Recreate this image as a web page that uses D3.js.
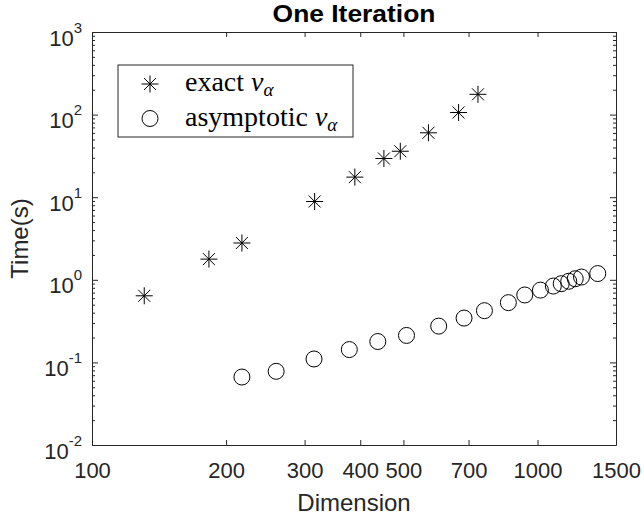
<!DOCTYPE html>
<html>
<head>
<meta charset="utf-8">
<script src="https://cdn.jsdelivr.net/npm/d3@7"></script>
<style>
  body { margin: 0; background: #fff; }
  svg { display: block; }
</style>
</head>
<body>
<div id="chart"></div>
<script>
// values
const exactDim = [131, 183, 217, 316, 389, 452, 492, 569, 665, 735];
const exactTime = [0.64, 1.78, 2.79, 8.87, 17.5, 29.4, 36.0, 60.2, 106, 176];

const asymDim = [217, 259, 315, 378, 438, 508, 600, 684, 760, 860, 936, 1015, 1085, 1130, 1175, 1215, 1255, 1365];
const asymTime = [0.0665, 0.078, 0.110, 0.143, 0.179, 0.212, 0.275, 0.344, 0.423, 0.529, 0.655, 0.75, 0.84, 0.897, 0.96, 1.03, 1.08, 1.19];

const xTicks = [100, 200, 300, 400, 500, 700, 1000, 1500];
const yExponents = [-2, -1, 0, 1, 2, 3];

const legendLabels = ['exact', 'asymptotic'];

const W = 644, H = 522;
const margin = { left: 92, right: 28, top: 32, bottom: 77 };
const axisColor = '#262626';
const sans = 'Liberation Sans, Arial, sans-serif';

const svg = d3.select('#chart').append('svg')
  .attr('width', W)
  .attr('height', H);

const x = d3.scaleLog().domain([100, 1500]).range([margin.left, W - margin.right]);
const y = d3.scaleLog().domain([1e-2, 1e3]).range([H - margin.bottom, margin.top]);

const yMajor = yExponents.map(e => Math.pow(10, e));
const yMinor = [];
yExponents.slice(0, -1).forEach(e => {
  for (let k = 2; k <= 9; k++) yMinor.push(k * Math.pow(10, e));
});

// axes (box + inward ticks)
function styleAxis(g) {
  g.selectAll('path.domain').attr('stroke', axisColor).attr('stroke-width', 1);
  g.selectAll('.tick line').attr('stroke', axisColor);
  g.selectAll('.tick text').attr('fill', axisColor);
}

const gx = svg.append('g')
  .attr('transform', `translate(0,${y.range()[0]})`)
  .call(d3.axisBottom(x).tickValues(xTicks).tickSize(-5).tickSizeOuter(0).tickPadding(17)
    .tickFormat(d3.format('d')))
  .call(styleAxis);
gx.selectAll('.tick text')
  .attr('font-family', sans)
  .attr('font-size', 22);

svg.append('g')
  .attr('transform', `translate(0,${y.range()[1]})`)
  .call(d3.axisTop(x).tickValues(xTicks).tickSize(-5).tickSizeOuter(0).tickFormat(''))
  .call(styleAxis);

const gy = svg.append('g')
  .attr('transform', `translate(${x.range()[0]},0)`)
  .call(d3.axisLeft(y).tickValues(yMajor).tickSize(-6).tickSizeOuter(0).tickFormat(''))
  .call(styleAxis);

svg.append('g')
  .attr('transform', `translate(${x.range()[0]},0)`)
  .call(d3.axisLeft(y).tickValues(yMinor).tickSize(-3).tickSizeOuter(0).tickFormat(''))
  .call(g => g.select('.domain').remove())
  .call(styleAxis);

svg.append('g')
  .attr('transform', `translate(${x.range()[1]},0)`)
  .call(d3.axisRight(y).tickValues(yMajor).tickSize(-6).tickSizeOuter(0).tickFormat(''))
  .call(styleAxis);

svg.append('g')
  .attr('transform', `translate(${x.range()[1]},0)`)
  .call(d3.axisRight(y).tickValues(yMinor).tickSize(-3).tickSizeOuter(0).tickFormat(''))
  .call(g => g.select('.domain').remove())
  .call(styleAxis);

// y tick labels as 10^n
gy.selectAll('.tick').each(function(d) {
  const t = d3.select(this).append('text')
    .attr('fill', axisColor)
    .attr('font-family', sans)
    .attr('text-anchor', 'end')
    .attr('x', -10)
    .attr('y', 13);
  t.append('tspan').attr('font-size', 22).text('10');
  t.append('tspan').attr('font-size', 15).attr('dy', -13).text(Math.round(Math.log10(d)));
});

// axis labels and title
svg.append('text')
  .attr('x', (x.range()[0] + x.range()[1]) / 2)
  .attr('y', 511)
  .attr('text-anchor', 'middle')
  .attr('fill', axisColor)
  .attr('font-family', sans)
  .attr('font-size', 24)
  .text('Dimension');

svg.append('text')
  .attr('transform', `translate(28,${(y.range()[0] + y.range()[1]) / 2}) rotate(-90)`)
  .attr('text-anchor', 'middle')
  .attr('fill', axisColor)
  .attr('font-family', sans)
  .attr('font-size', 24)
  .text('Time(s)');

svg.append('text')
  .attr('transform', `translate(${(x.range()[0] + x.range()[1]) / 2},22) scale(1.1,1)`)
  .attr('text-anchor', 'middle')
  .attr('fill', '#000')
  .attr('font-family', sans)
  .attr('font-weight', 'bold')
  .attr('font-size', 24)
  .text('One Iteration');

// markers
const starPath = 'M-8.5,0H8.5M0,-8.5V8.5M-6,-6L6,6M-6,6L6,-6';
const exact = exactDim.map((d, i) => ({ dim: d, time: exactTime[i] }));
const asym = asymDim.map((d, i) => ({ dim: d, time: asymTime[i] }));

svg.append('g').selectAll('path')
  .data(exact)
  .join('path')
  .attr('transform', d => `translate(${x(d.dim)},${y(d.time)})`)
  .attr('d', starPath)
  .attr('stroke', '#000')
  .attr('stroke-width', 1)
  .attr('fill', 'none');

svg.append('g').selectAll('circle')
  .data(asym)
  .join('circle')
  .attr('cx', d => x(d.dim))
  .attr('cy', d => y(d.time))
  .attr('r', 8)
  .attr('stroke', '#000')
  .attr('stroke-width', 1)
  .attr('fill', 'none');

// legend
const lg = svg.append('g').attr('transform', 'translate(118,65)');
lg.append('rect')
  .attr('width', 235)
  .attr('height', 72)
  .attr('fill', '#fff')
  .attr('stroke', axisColor)
  .attr('stroke-width', 1);

const rows = lg.selectAll('g.row')
  .data(legendLabels)
  .join('g')
  .attr('class', 'row')
  .attr('transform', (d, i) => `translate(0,${19 + i * 34.5})`);

rows.filter((d, i) => i === 0).append('path')
  .attr('transform', 'translate(32,0)')
  .attr('d', starPath)
  .attr('stroke', '#000')
  .attr('fill', 'none');
rows.filter((d, i) => i === 1).append('circle')
  .attr('cx', 32)
  .attr('r', 8)
  .attr('stroke', '#000')
  .attr('fill', 'none');

const lt = rows.append('text')
  .attr('x', 67)
  .attr('y', 7)
  .attr('fill', '#000')
  .attr('font-family', 'Liberation Serif, Times New Roman, serif')
  .attr('font-size', 28);
lt.append('tspan').text(d => d + ' ');
lt.append('tspan').attr('font-style', 'italic').text('v');
lt.append('tspan').attr('font-style', 'italic').attr('font-size', 19).attr('dy', 5).text('α');
</script>
</body>
</html>
